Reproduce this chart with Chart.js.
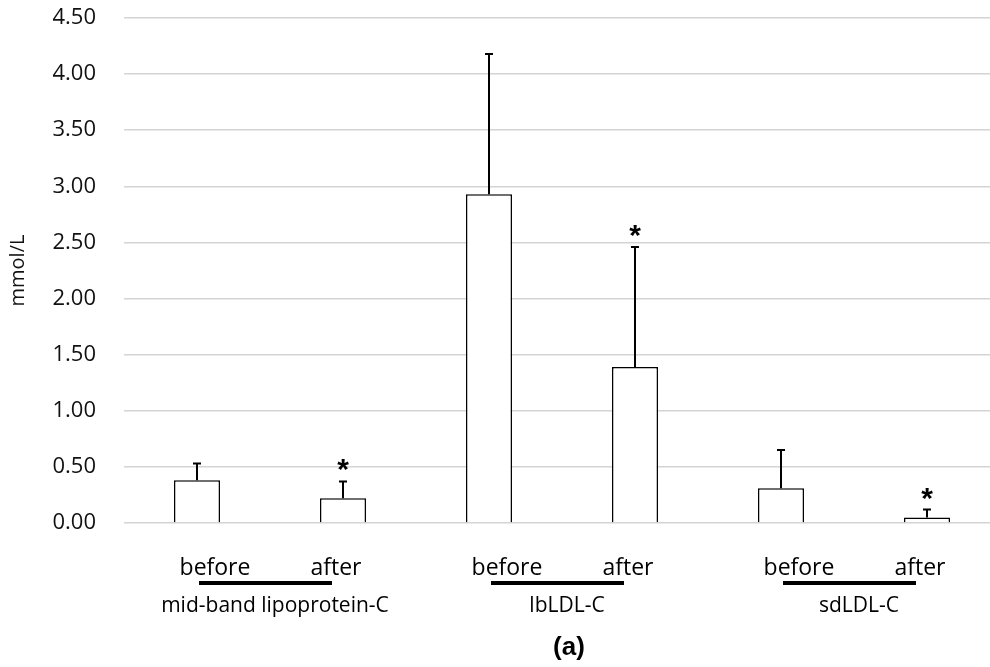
<!DOCTYPE html>
<html>
<head>
<meta charset="utf-8">
<script src="https://cdn.jsdelivr.net/npm/chart.js@4.4.1/dist/chart.umd.min.js"></script>
<style>
html,body{margin:0;padding:0;background:#fff;overflow:hidden;width:990px;height:667px;}
#wrap{position:absolute;left:0;top:0;width:1000px;height:667px;}
</style>
</head>
<body>
<div id="wrap"><canvas id="c" width="1000" height="667"></canvas></div>
<script>
// ---- data ----
const groups = ['mid-band lipoprotein-C', 'lbLDL-C', 'sdLDL-C'];
const phases = ['before', 'after'];
const categories = ['before', 'after', 'before', 'after', 'before', 'after'];
const means = [0.38, 0.22, 2.93, 1.39, 0.31, 0.05];
const sds = [0.15, 0.15, 1.25, 1.07, 0.34, 0.07];
const significant = [false, true, false, true, false, true];
const yTicks = [0, 0.5, 1, 1.5, 2, 2.5, 3, 3.5, 4, 4.5];
const panelLabel = '(a)';
const yTitle = 'mmol/L';

const TXT = "'Open Sans', 'Noto Sans', sans-serif";

const annotPlugin = {
  id: 'annot',
  afterDatasetsDraw(chart) {
    const ctx = chart.ctx;
    const y = chart.scales.y;
    const meta = chart.getDatasetMeta(0);
    ctx.save();
    ctx.strokeStyle = '#000';
    ctx.lineWidth = 2;
    meta.data.forEach((bar, i) => {
      const x = bar.x;
      const yb = y.getPixelForValue(means[i]);
      const yt = y.getPixelForValue(means[i] + sds[i]);
      ctx.beginPath();
      ctx.moveTo(x, yb);
      ctx.lineTo(x, yt);
      ctx.moveTo(x - 4, yt);
      ctx.lineTo(x + 4, yt);
      ctx.stroke();
      if (significant[i]) {
        ctx.fillStyle = '#000';
        ctx.font = "bold 30px 'Liberation Sans', Arial, sans-serif";
        ctx.textAlign = 'center';
        ctx.textBaseline = 'alphabetic';
        const m = ctx.measureText('*');
        const off = (m.actualBoundingBoxAscent - m.actualBoundingBoxDescent) / 2;
        ctx.fillText('*', x, yt - 16 + off);
      }
    });
    ctx.restore();
  },
  afterDraw(chart) {
    const ctx = chart.ctx;
    const meta = chart.getDatasetMeta(0);
    const bottom = chart.chartArea.bottom;
    ctx.save();
    ctx.fillStyle = '#000';
    ctx.strokeStyle = '#000';
    ctx.textAlign = 'center';
    ctx.textBaseline = 'middle';
    groups.forEach((g, gi) => {
      const xb = meta.data[gi * 2].x;
      const xa = meta.data[gi * 2 + 1].x;
      ctx.font = '23px ' + TXT;
      ctx.fillText(phases[0], xb + 18, bottom + 45);
      ctx.fillText(phases[1], xa - 7, bottom + 45);
      ctx.lineWidth = 4;
      ctx.beginPath();
      ctx.moveTo(xb + 2, bottom + 60);
      ctx.lineTo(xa - 11, bottom + 60);
      ctx.stroke();
      ctx.font = '21px ' + TXT;
      ctx.fillText(g, (xb + xa) / 2 + 5, bottom + 83);
    });
    const mid = (meta.data[2].x + meta.data[3].x) / 2;
    ctx.font = "bold 26px 'Liberation Sans', Arial, sans-serif";
    ctx.fillText(panelLabel, mid + 7, bottom + 125);
    ctx.restore();
  }
};

new Chart(document.getElementById('c'), {
  type: 'bar',
  data: {
    labels: categories,
    datasets: [{
      data: means,
      backgroundColor: '#ffffff',
      borderColor: '#000000',
      borderWidth: 1.5,
      barPercentage: 0.315,
      categoryPercentage: 1.0
    }]
  },
  options: {
    responsive: false,
    animation: false,
    devicePixelRatio: 1,
    layout: { padding: { left: 0, top: 18, right: 0, bottom: 144 } },
    plugins: { legend: { display: false }, tooltip: { enabled: false } },
    scales: {
      x: { display: false },
      y: {
        min: 0, max: 4.5,
        afterBuildTicks(scale) { scale.ticks = yTicks.map(v => ({ value: v })); },
        afterFit(scale) { scale.width = 124; scale.paddingTop = 0; scale.paddingBottom = 0; },
        border: { display: false },
        grid: { color: '#d4d4d4', lineWidth: 1.5, drawTicks: false },
        ticks: {
          padding: 28,
          color: '#111',
          font: { family: TXT, size: 22 },
          callback: v => Number(v).toFixed(2)
        },
        title: {
          display: true,
          text: yTitle,
          color: '#111',
          font: { family: TXT, size: 20 },
          padding: { top: 6, bottom: 0 }
        }
      }
    }
  },
  plugins: [annotPlugin]
});
</script>
</body>
</html>
